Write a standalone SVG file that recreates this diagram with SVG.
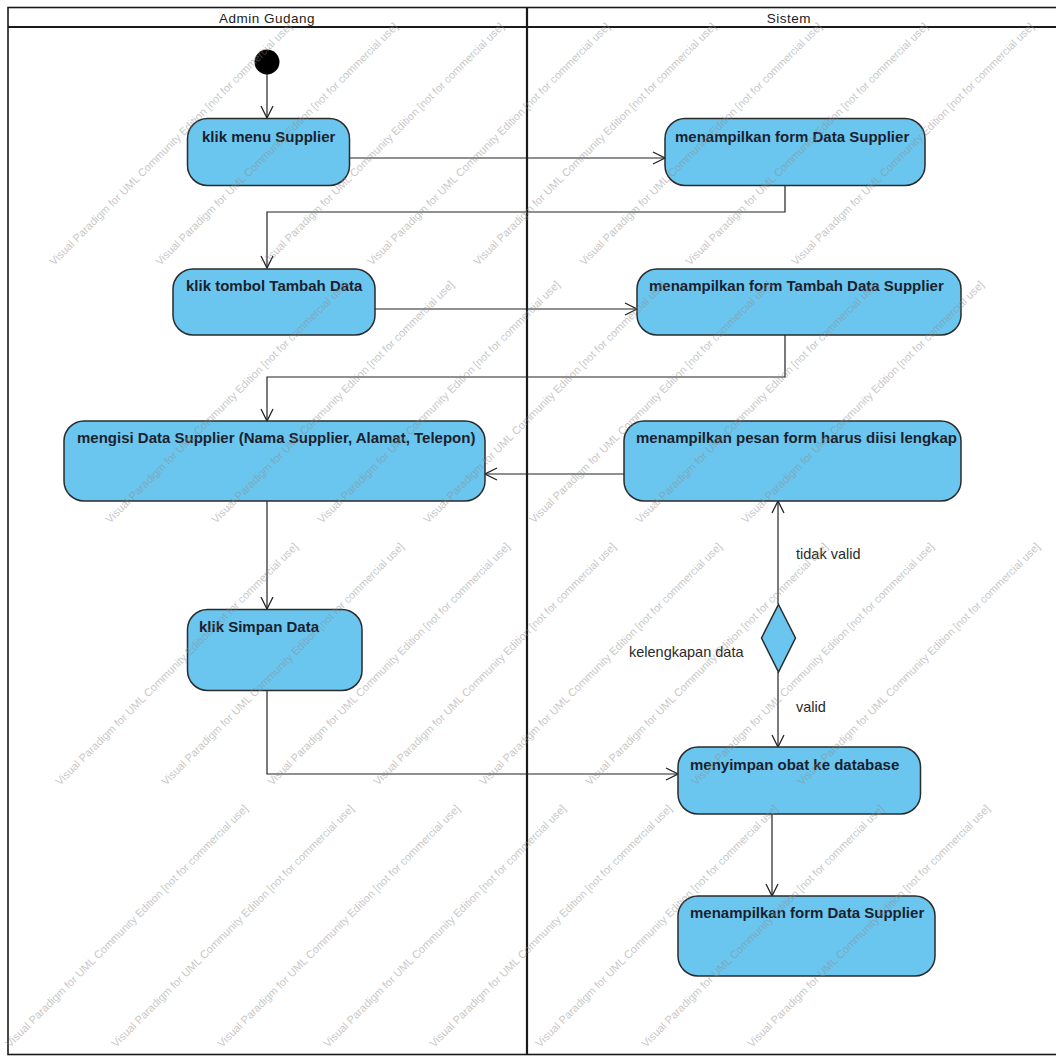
<svg xmlns="http://www.w3.org/2000/svg" width="1056" height="1057" viewBox="0 0 1056 1057">
  <defs>
    <style>
      .lane { fill: none; stroke: #1a1a1a; stroke-width: 1.6; }
      .lanehead { font-family: "Liberation Sans", Arial, sans-serif; font-size: 13.5px; letter-spacing: 0.5px; fill: #222; text-anchor: middle; }
      .act { fill: #6ac6ef; stroke: #2b2b2b; stroke-width: 1.5; }
      .lbl { font-family: "Liberation Sans", Arial, sans-serif; font-size: 15px; font-weight: bold; fill: #1b1f2e; }
      .guard { font-family: "Liberation Sans", Arial, sans-serif; font-size: 14.5px; fill: #2a2a2a; }
      .edge { fill: none; stroke: #222; stroke-width: 1.2; }
      .wm { font-family: "Liberation Sans", Arial, sans-serif; font-size: 11px; fill: #8c8c8c; fill-opacity: 0.5; }
    </style>
    <marker id="open" viewBox="0 0 14 14" refX="13" refY="7" markerWidth="14" markerHeight="14" markerUnits="userSpaceOnUse" orient="auto">
      <path d="M1,1 L13,7 L1,13" fill="none" stroke="#222" stroke-width="1.3"/>
    </marker>
  </defs>

  <rect x="0" y="0" width="1056" height="1057" fill="#ffffff"/>

  <!-- swimlanes -->
  <g id="lanes">
    <rect class="lane" x="8" y="7.5" width="1060" height="1047"/>
    <line x1="8" y1="27" x2="1056" y2="27" stroke="#1a1a1a" stroke-width="2.2"/>
    <line x1="527" y1="7.5" x2="527" y2="1055" stroke="#1a1a1a" stroke-width="2.2"/>
    <text class="lanehead" x="267" y="23">Admin Gudang</text>
    <text class="lanehead" x="789" y="23">Sistem</text>
  </g>

  <!-- connectors -->
  <g id="connectors">
    <path class="edge" d="M267,74 L267,118" marker-end="url(#open)"/>
    <path class="edge" d="M350,158 L665,158" marker-end="url(#open)"/>
    <path class="edge" d="M785,186 L785,212 L267,212 L267,268" marker-end="url(#open)"/>
    <path class="edge" d="M375,309 L637,309" marker-end="url(#open)"/>
    <path class="edge" d="M785,335 L785,377 L267,377 L267,421" marker-end="url(#open)"/>
    <path class="edge" d="M624,474 L485,474" marker-end="url(#open)"/>
    <path class="edge" d="M267,501 L267,609" marker-end="url(#open)"/>
    <path class="edge" d="M267,691 L267,774 L678,774" marker-end="url(#open)"/>
    <path class="edge" d="M778,604 L778,501" marker-end="url(#open)"/>
    <path class="edge" d="M778,672 L778,747" marker-end="url(#open)"/>
    <path class="edge" d="M772,814 L772,896" marker-end="url(#open)"/>
    <text class="guard" x="796" y="559">tidak valid</text>
    <text class="guard" x="796" y="712">valid</text>
  </g>

  <!-- nodes -->
  <g id="start">
    <circle cx="267" cy="62" r="12.5" fill="#000"/>
  </g>
  <g id="klik-menu-supplier">
    <rect class="act" x="187.5" y="118.5" width="162" height="67" rx="20"/>
    <text class="lbl" x="202" y="142">klik menu Supplier</text>
  </g>
  <g id="form-data-supplier">
    <rect class="act" x="665" y="118.5" width="260" height="67" rx="20"/>
    <text class="lbl" x="675" y="142">menampilkan form Data Supplier</text>
  </g>
  <g id="klik-tambah-data">
    <rect class="act" x="173" y="269" width="202" height="66" rx="20"/>
    <text class="lbl" x="186" y="291">klik tombol Tambah Data</text>
  </g>
  <g id="form-tambah-data">
    <rect class="act" x="637" y="269" width="324" height="66" rx="20"/>
    <text class="lbl" x="649" y="291">menampilkan form Tambah Data Supplier</text>
  </g>
  <g id="mengisi-data">
    <rect class="act" x="64" y="421" width="421" height="80" rx="20"/>
    <text class="lbl" x="77" y="443">mengisi Data Supplier (Nama Supplier, Alamat, Telepon)</text>
  </g>
  <g id="pesan-lengkap">
    <rect class="act" x="624" y="421" width="337" height="80" rx="20"/>
    <text class="lbl" x="636" y="443">menampilkan pesan form harus diisi lengkap</text>
  </g>
  <g id="klik-simpan">
    <rect class="act" x="187.5" y="609.5" width="174.5" height="81" rx="20"/>
    <text class="lbl" x="199" y="632">klik Simpan Data</text>
  </g>
  <g id="decision">
    <polygon class="act" points="778.5,604.5 795.5,638 778.5,672 761.5,638"/>
    <text class="guard" x="629" y="657">kelengkapan data</text>
  </g>
  <g id="menyimpan">
    <rect class="act" x="678" y="747" width="242.5" height="67" rx="20"/>
    <text class="lbl" x="690" y="770">menyimpan obat ke database</text>
  </g>
  <g id="form-data-supplier-2">
    <rect class="act" x="678" y="896" width="257" height="80" rx="20"/>
    <text class="lbl" x="690" y="918">menampilkan form Data Supplier</text>
  </g>

  <!-- editor watermark: one stamp per lattice point, each rotated 45 degrees about its own start -->
  <g id="watermark" class="wm">
    <text transform="translate(10 1048) rotate(-45)">Visual Paradigm for UML Community Edition [not for commercial use]</text>
    <text transform="translate(116 1048) rotate(-45)">Visual Paradigm for UML Community Edition [not for commercial use]</text>
    <text transform="translate(222 1048) rotate(-45)">Visual Paradigm for UML Community Edition [not for commercial use]</text>
    <text transform="translate(328 1048) rotate(-45)">Visual Paradigm for UML Community Edition [not for commercial use]</text>
    <text transform="translate(434 1048) rotate(-45)">Visual Paradigm for UML Community Edition [not for commercial use]</text>
    <text transform="translate(540 1048) rotate(-45)">Visual Paradigm for UML Community Edition [not for commercial use]</text>
    <text transform="translate(646 1048) rotate(-45)">Visual Paradigm for UML Community Edition [not for commercial use]</text>
    <text transform="translate(752 1048) rotate(-45)">Visual Paradigm for UML Community Edition [not for commercial use]</text>

    <text transform="translate(60 786) rotate(-45)">Visual Paradigm for UML Community Edition [not for commercial use]</text>
    <text transform="translate(166 786) rotate(-45)">Visual Paradigm for UML Community Edition [not for commercial use]</text>
    <text transform="translate(272 786) rotate(-45)">Visual Paradigm for UML Community Edition [not for commercial use]</text>
    <text transform="translate(378 786) rotate(-45)">Visual Paradigm for UML Community Edition [not for commercial use]</text>
    <text transform="translate(484 786) rotate(-45)">Visual Paradigm for UML Community Edition [not for commercial use]</text>
    <text transform="translate(590 786) rotate(-45)">Visual Paradigm for UML Community Edition [not for commercial use]</text>
    <text transform="translate(696 786) rotate(-45)">Visual Paradigm for UML Community Edition [not for commercial use]</text>
    <text transform="translate(802 786) rotate(-45)">Visual Paradigm for UML Community Edition [not for commercial use]</text>

    <text transform="translate(110 524) rotate(-45)">Visual Paradigm for UML Community Edition [not for commercial use]</text>
    <text transform="translate(216 524) rotate(-45)">Visual Paradigm for UML Community Edition [not for commercial use]</text>
    <text transform="translate(322 524) rotate(-45)">Visual Paradigm for UML Community Edition [not for commercial use]</text>
    <text transform="translate(428 524) rotate(-45)">Visual Paradigm for UML Community Edition [not for commercial use]</text>
    <text transform="translate(534 524) rotate(-45)">Visual Paradigm for UML Community Edition [not for commercial use]</text>
    <text transform="translate(640 524) rotate(-45)">Visual Paradigm for UML Community Edition [not for commercial use]</text>
    <text transform="translate(746 524) rotate(-45)">Visual Paradigm for UML Community Edition [not for commercial use]</text>

    <text transform="translate(54 266) rotate(-45)">Visual Paradigm for UML Community Edition [not for commercial use]</text>
    <text transform="translate(160 266) rotate(-45)">Visual Paradigm for UML Community Edition [not for commercial use]</text>
    <text transform="translate(266 266) rotate(-45)">Visual Paradigm for UML Community Edition [not for commercial use]</text>
    <text transform="translate(372 266) rotate(-45)">Visual Paradigm for UML Community Edition [not for commercial use]</text>
    <text transform="translate(478 266) rotate(-45)">Visual Paradigm for UML Community Edition [not for commercial use]</text>
    <text transform="translate(584 266) rotate(-45)">Visual Paradigm for UML Community Edition [not for commercial use]</text>
    <text transform="translate(690 266) rotate(-45)">Visual Paradigm for UML Community Edition [not for commercial use]</text>
    <text transform="translate(796 266) rotate(-45)">Visual Paradigm for UML Community Edition [not for commercial use]</text>
  </g>
</svg>
